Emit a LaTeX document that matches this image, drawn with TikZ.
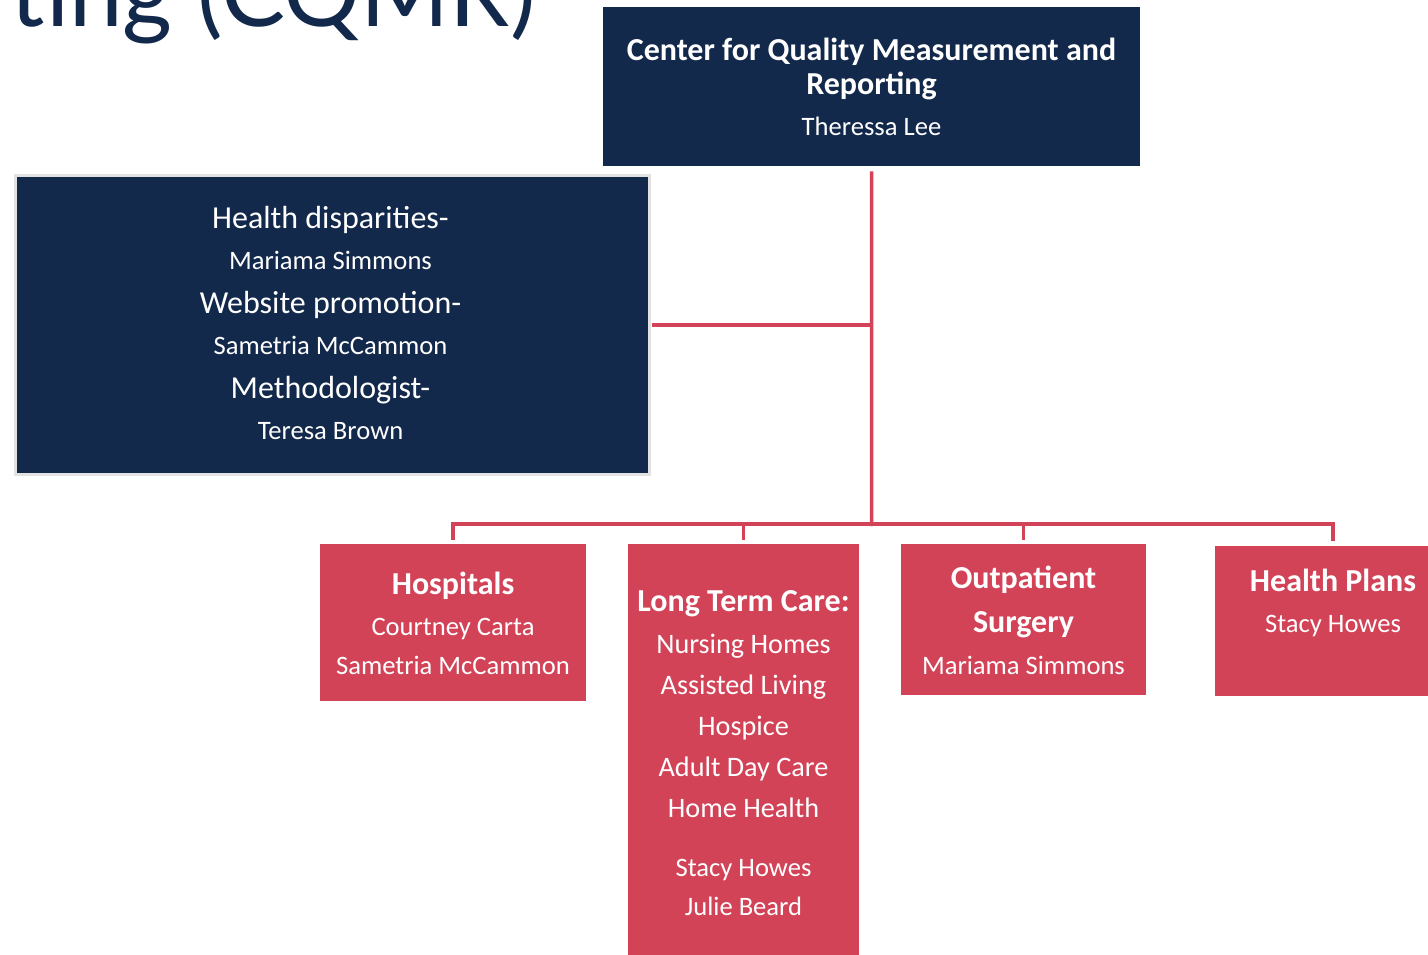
\documentclass[tikz,border=0pt]{standalone}
\usepackage{fontspec}
\setmainfont{Carlito}
\newfontfamily\titlefont{Lato}
\definecolor{navy}{HTML}{13294B}
\definecolor{rosered}{HTML}{D24358}
\definecolor{edgegray}{HTML}{E2E2E2}
\begin{document}
\begin{tikzpicture}[x=1pt,y=-1pt,
  navybox/.style={fill=navy,draw=none,inner sep=0pt,anchor=north west},
  redbox/.style={fill=rosered,draw=none,inner sep=0pt,anchor=north west},
  hd/.style={text=white,font=\bfseries\fontsize{32}{36}\selectfont,anchor=base,inner sep=0pt},
  nm/.style={text=white,font=\fontsize{26.6}{30}\selectfont,anchor=base,inner sep=0pt},
  it/.style={text=white,font=\fontsize{28.2}{32}\selectfont,anchor=base,inner sep=0pt},
  lh/.style={text=white,font=\fontsize{32}{36}\selectfont,anchor=base,inner sep=0pt},
  conn/.style={draw=rosered,line width=3.5pt}
]
\useasboundingbox (0,0) rectangle (1428,955);
\clip (0,0) rectangle (1428,955);
% title fragment
\node[anchor=base west,inner sep=0pt,text=navy,font=\titlefont\fontsize{96}{110}\selectfont] (title) at (10,27) {ting (CQMR)};
% top box
\node[navybox,minimum width=537,minimum height=159] (top) at (603,7) {};
\node[hd] (top1) at (871.5,61) {Center for Quality Measurement and};
\node[hd] (top2) at (871.5,95) {Reporting};
\node[nm] (top3) at (871.5,136) {Theressa Lee};
% left box
\node[navybox,minimum width=634,minimum height=298,draw=edgegray,line width=3pt] (left) at (13.5,174.5) {};
\node[lh] (l1) at (330.5,228) {Health disparities-};
\node[nm] (l2) at (330.5,269) {Mariama Simmons};
\node[lh] (l3) at (330.5,313) {Website promotion-};
\node[nm] (l4) at (330.5,354) {Sametria McCammon};
\node[lh] (l5) at (330.5,398) {Methodologist-};
\node[nm] (l6) at (330.5,439) {Teresa Brown};
% bottom boxes
\node[redbox,minimum width=266,minimum height=157] (hosp) at (320,544) {};
\node[hd] (h1) at (453,594) {Hospitals};
\node[nm] (h2) at (453,635) {Courtney Carta};
\node[nm] (h3) at (453,674) {Sametria McCammon};
\node[redbox,minimum width=231,minimum height=420] (ltc) at (628,544) {};
\node[hd] (c1) at (743.5,611) {Long Term Care:};
\node[it] (c2) at (743.5,653) {Nursing Homes};
\node[it] (c3) at (743.5,694) {Assisted Living};
\node[it] (c4) at (743.5,735) {Hospice};
\node[it] (c5) at (743.5,776) {Adult Day Care};
\node[it] (c6) at (743.5,817) {Home Health};
\node[nm] (c7) at (743.5,876) {Stacy Howes};
\node[nm] (c8) at (743.5,915) {Julie Beard};
\node[redbox,minimum width=245,minimum height=151] (outp) at (901,544) {};
\node[hd] (o1) at (1023.5,588) {Outpatient};
\node[hd] (o2) at (1023.5,632) {Surgery};
\node[nm] (o3) at (1023.5,674) {Mariama Simmons};
\node[redbox,minimum width=236,minimum height=150] (plans) at (1215,546) {};
\node[hd] (p1) at (1333,591) {Health Plans};
\node[nm] (p2) at (1333,632) {Stacy Howes};
% connectors
\coordinate (bus) at (871.5,524);
\coordinate (pdrop) at (1333,546);
\draw[conn] ([yshift=-5pt]top.south) -- ([yshift=-2pt]bus);
\draw[conn] ([xshift=1pt]left.east) -- (left.east -| bus);
\draw[conn,line join=miter] ([yshift=4pt]hosp.north) -- (hosp.north |- bus) -- (bus -| pdrop) -- ([yshift=5pt]pdrop);
\draw[conn] (bus -| ltc.north) -- ([yshift=4pt]ltc.north);
\draw[conn] (bus -| outp.north) -- ([yshift=4pt]outp.north);
\end{tikzpicture}
\end{document}
